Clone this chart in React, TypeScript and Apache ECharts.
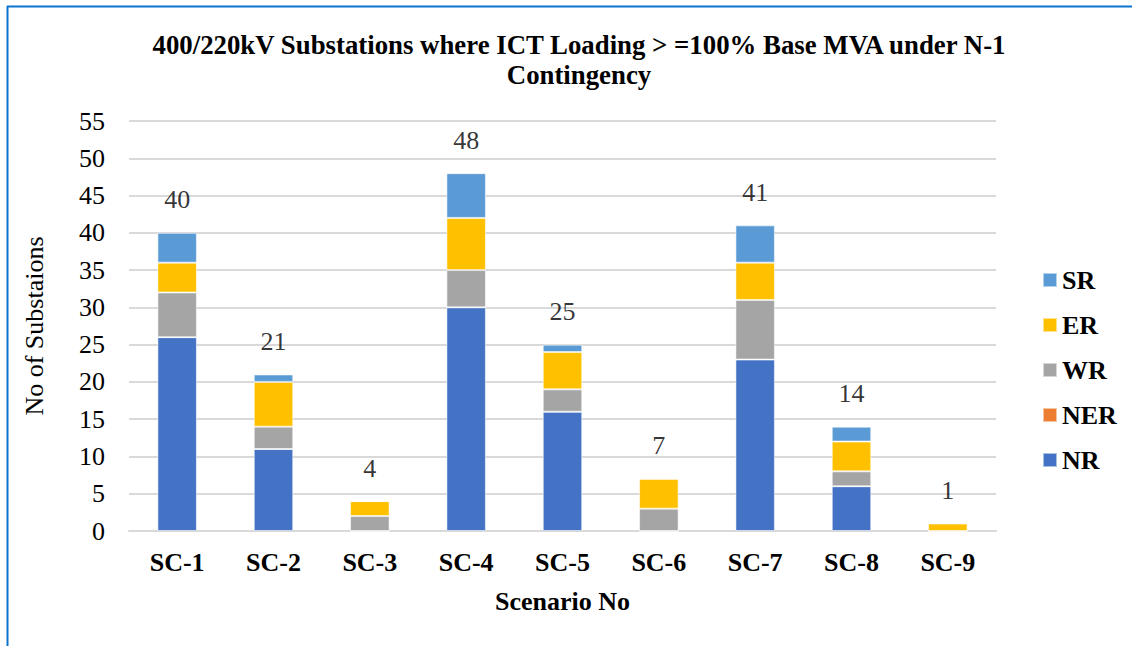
import React, { useEffect, useRef } from "react";
import * as echarts from "echarts";

const categories = ["SC-1", "SC-2", "SC-3", "SC-4", "SC-5", "SC-6", "SC-7", "SC-8", "SC-9"];
const nrValues = [26, 11, 0, 30, 16, 0, 23, 6, 0];
const nerValues = [0, 0, 0, 0, 0, 0, 0, 0, 0];
const wrValues = [6, 3, 2, 5, 3, 3, 8, 2, 0];
const erValues = [4, 6, 2, 7, 5, 4, 5, 4, 1];
const srValues = [4, 1, 0, 6, 1, 0, 5, 2, 0];
const totals = [40, 21, 4, 48, 25, 7, 41, 14, 1];
const yTicks = [0, 5, 10, 15, 20, 25, 30, 35, 40, 45, 50, 55];

const FONT = "Liberation Serif";
const FS = 26;

export default function App() {
  const ref = useRef<HTMLDivElement>(null);
  useEffect(() => {
    if (!ref.current) return;
    const chart = echarts.init(ref.current, null, { renderer: "svg" });
    const barStyle = (color: string) => ({
      color,
      borderColor: "rgba(255,255,255,0.55)",
      borderWidth: 1,
    });
    const mk = (name: string, data: number[], color: string) => ({
      name,
      type: "bar",
      stack: "total",
      data,
      barWidth: "41%",
      itemStyle: barStyle(color),
      emphasis: { disabled: true },
    });
    chart.setOption({
      animation: false,
      backgroundColor: "#ffffff",
      textStyle: { fontFamily: FONT },
      title: {
        text: "400/220kV Substations where ICT Loading > =100% Base MVA under N-1\nContingency",
        left: 574,
        textAlign: "center",
        top: 25,
        textStyle: { fontFamily: FONT, fontSize: 26.8, fontWeight: "bold", color: "#000", lineHeight: 30 },
      },
      legend: {
        orient: "vertical",
        left: 1037,
        top: 262,
        itemWidth: 14,
        itemHeight: 14,
        itemGap: 19,
        data: ["SR", "ER", "WR", "NER", "NR"],
        textStyle: { fontFamily: FONT, fontSize: FS, fontWeight: "bold", color: "#000" },
        icon: "rect",
      },
      grid: { left: 129, right: 136, top: 121, bottom: 115 },
      xAxis: {
        type: "category",
        data: categories,
        name: "Scenario No",
        nameLocation: "middle",
        nameGap: 57,
        nameTextStyle: { fontFamily: FONT, fontSize: FS, fontWeight: "bold", color: "#000" },
        axisLine: { lineStyle: { color: "#d9d9d9", width: 2 } },
        axisTick: { show: false },
        axisLabel: { fontFamily: FONT, fontSize: FS, fontWeight: "bold", color: "#000", margin: 18 },
      },
      yAxis: {
        type: "value",
        min: 0,
        max: 55,
        interval: 5,
        name: "No of Substaions",
        nameLocation: "middle",
        nameGap: 82,
        nameTextStyle: { fontFamily: FONT, fontSize: FS, color: "#000" },
        axisLine: { show: false },
        axisTick: { show: false },
        axisLabel: {
          fontFamily: FONT,
          fontSize: FS,
          color: "#000",
          margin: 24,
          formatter: (v: number) => (yTicks.includes(v) ? String(v) : ""),
        },
        splitLine: { lineStyle: { color: "#d9d9d9", width: 2 } },
      },
      series: [
        mk("NR", nrValues, "#4472C4"),
        mk("NER", nerValues, "#ED7D31"),
        mk("WR", wrValues, "#A5A5A5"),
        mk("ER", erValues, "#FFC000"),
        mk("SR", srValues, "#5B9BD5"),
        {
          name: "Total",
          type: "scatter",
          data: totals,
          symbolSize: 0,
          silent: true,
          label: {
            show: true,
            position: "top",
            distance: 20,
            fontFamily: FONT,
            fontSize: FS,
            color: "#000",
          },
        },
      ],
      graphic: [
        {
          type: "line",
          shape: { x1: 7, y1: 6.5, x2: 1132, y2: 6.5 },
          style: { stroke: "#0B73CE", lineWidth: 2 },
        },
        {
          type: "line",
          shape: { x1: 7.5, y1: 6, x2: 7.5, y2: 646 },
          style: { stroke: "#0B73CE", lineWidth: 2 },
        },
      ],
    });
    return () => chart.dispose();
  }, []);
  return (
    <div
      ref={ref}
      style={{ position: "fixed", left: 0, top: 0, width: 1132, height: 646, background: "#fff" }}
    />
  );
}
